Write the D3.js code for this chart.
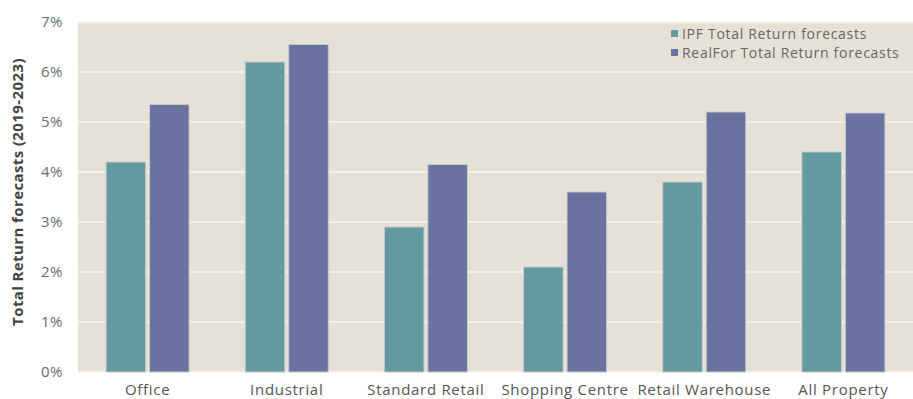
<!DOCTYPE html>
<html>
<head>
<meta charset="utf-8">
<script src="https://cdn.jsdelivr.net/npm/d3@7"></script>
<style>
  body { margin: 0; background: #fff; }
  text { font-family: "Open Sans", "DejaVu Sans", sans-serif; }
</style>
</head>
<body>
<div id="chart"></div>
<script>
// Chart data
const categories = ["Office", "Industrial", "Standard Retail", "Shopping Centre", "Retail Warehouse", "All Property"];
const ipfValues = [4.2, 6.2, 2.9, 2.1, 3.8, 4.4];
const realForValues = [5.35, 6.55, 4.15, 3.6, 5.2, 5.18];
const seriesNames = ["IPF Total Return forecasts", "RealFor Total Return forecasts"];
const yTicks = [0, 1, 2, 3, 4, 5, 6, 7];

// Sizes
let fullWidth = 913, fullHeight = 399;
let margin = { top: 22, right: 0, bottom: 27, left: 78 };
let width = fullWidth - margin.left - margin.right;
let height = fullHeight - margin.top - margin.bottom;

let svg = d3.select("#chart")
    .append("svg")
    .attr("width", fullWidth)
    .attr("height", fullHeight)
    .append("g")
    .attr("transform", `translate(${margin.left}, ${margin.top})`);

// Plot background
svg.append("rect")
    .attr("width", width)
    .attr("height", height)
    .attr("fill", "#e5e1d6");

// Scales
let x = d3.scaleBand()
    .domain(categories)
    .range([0, width]);

let y = d3.scaleLinear()
    .domain([0, 7])
    .range([height, 0]);

let sub = d3.scaleBand()
    .domain([0, 1])
    .range([x.bandwidth() / 2 - 41.5, x.bandwidth() / 2 + 41.5])
    .paddingInner(0.09);

let color = ["#6399a1", "#6a739f"];

// Grid lines
svg.append("g")
    .selectAll("line")
    .data(yTicks)
    .enter().append("line")
    .attr("x1", 0)
    .attr("x2", width)
    .attr("y1", d => y(d))
    .attr("y2", d => y(d))
    .attr("stroke", "#f6f4ef")
    .attr("stroke-width", 1.5);

// Y axis
let yAxis = svg.append("g")
    .call(d3.axisLeft(y).tickValues(yTicks).tickFormat(d => d + "%").tickSize(0).tickPadding(15));
yAxis.select(".domain").remove();
yAxis.selectAll("text")
    .style("font-size", "15px")
    .style("letter-spacing", "0.5px")
    .style("fill", "#6b6b6b");

// X axis
let xAxis = svg.append("g")
    .attr("transform", `translate(0, ${height})`)
    .call(d3.axisBottom(x).tickSize(0).tickPadding(12));
xAxis.select(".domain").remove();
xAxis.selectAll("text")
    .style("font-size", "15px")
    .style("letter-spacing", "0.7px")
    .style("fill", "#555");

// Bars
let rows = categories.map((c, i) => ({ category: c, values: [ipfValues[i], realForValues[i]] }));

svg.append("g")
    .selectAll("g")
    .data(rows)
    .enter().append("g")
    .attr("transform", d => `translate(${x(d.category)}, 0)`)
    .selectAll("rect")
    .data(d => d.values.map((v, k) => ({ k: k, v: v })))
    .enter().append("rect")
    .attr("x", d => sub(d.k))
    .attr("y", d => y(d.v))
    .attr("width", sub.bandwidth())
    .attr("height", d => y(0) - y(d.v))
    .attr("fill", d => color[d.k])
    .attr("stroke", "#c9c9c9")
    .attr("stroke-width", 1);

// Y axis title
svg.append("text")
    .attr("transform", "rotate(-90)")
    .attr("x", -height / 2 + 5)
    .attr("y", -margin.left + 23)
    .attr("text-anchor", "middle")
    .style("font-size", "15px")
    .style("font-weight", "bold")
    .style("letter-spacing", "0.4px")
    .style("fill", "#444")
    .text("Total Return forecasts (2019-2023)");

// Legend
let legend = svg.append("g")
    .attr("transform", `translate(${671 - margin.left}, ${34 - margin.top})`);

legend.selectAll("rect")
    .data(seriesNames)
    .enter().append("rect")
    .attr("y", (d, i) => i * 19 - 4)
    .attr("width", 7)
    .attr("height", 7)
    .attr("fill", (d, i) => color[i]);

legend.selectAll("text")
    .data(seriesNames)
    .enter().append("text")
    .attr("x", 11)
    .attr("y", (d, i) => i * 19)
    .attr("dy", "0.35em")
    .style("font-size", "14px")
    .style("letter-spacing", "0.7px")
    .style("fill", "#666")
    .text(d => d);
</script>
</body>
</html>
